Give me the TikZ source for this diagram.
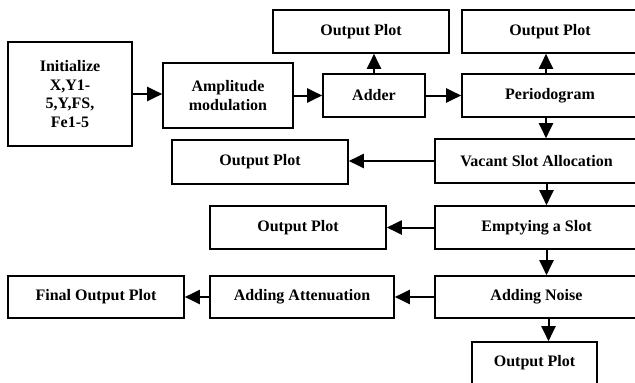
\documentclass[tikz,border=0pt]{standalone}
\usepackage{fontspec}
\setmainfont{Liberation Serif}
\usetikzlibrary{arrows.meta}

\begin{document}
\begin{tikzpicture}[x=1pt,y=-1pt]
		\tikzset{block/.style = {shape=rectangle, draw, line width=1.6pt, inner sep=0pt, align=center, font=\fontsize{16}{18.5}\selectfont\bfseries}}
		\tikzset{flow/.style = {-{Triangle[length=15pt,width=14pt]}, line width=2pt}}

		\useasboundingbox (0,0) rectangle (635,383);

		\node[block, minimum width=124pt, minimum height=104pt] (Init) at (70,94) {Initialize\\X,Y1-\\5,Y,FS,\\Fe1-5};
		\node[block, minimum width=130pt, minimum height=65pt] (Amp) at (228,95.5) {Amplitude\\modulation};
		\node[block, minimum width=102pt, minimum height=43pt] (Add) at (374,95.5) {Adder};
		\node[block, minimum width=176pt, minimum height=43pt] (Peri) at (550,95.5) {Periodogram};
		\node[block, minimum width=176pt, minimum height=43pt] (Out_1) at (361,31.5) {Output Plot};
		\node[block, minimum width=176pt, minimum height=43pt] (Out_2) at (550,31.5) {Output Plot};

		\node[block, minimum width=203pt, minimum height=44pt] (Vac) at (536.5,161) {Vacant Slot Allocation};
		\node[block, minimum width=176pt, minimum height=44pt] (Out_3) at (260,162) {Output Plot};
		\node[block, minimum width=203pt, minimum height=43pt] (Emp) at (536.5,227.5) {Emptying a Slot};
		\node[block, minimum width=176pt, minimum height=43pt] (Out_4) at (298,227.5) {Output Plot};
		\node[block, minimum width=203pt, minimum height=42pt] (Noise) at (536.5,297) {Adding Noise};
		\node[block, minimum width=184pt, minimum height=42pt] (Atten) at (302,297) {Adding Attenuation};
		\node[block, minimum width=176pt, minimum height=42pt] (Final) at (96,297) {Final Output Plot};
		\node[block, minimum width=125pt, minimum height=42pt] (Out_5) at (534.5,363) {Output Plot};

		\draw[flow] (Init.east) -- (Init.east -| Amp.west);
		\draw[flow] (Amp) -- (Add);
		\draw[flow] (Add) -- (Peri);
		\draw[flow] (Add) -- (Add |- Out_1.south);
		\draw[flow] ([xshift=-4pt]Peri.north) -- ([xshift=-4pt]Peri.north |- Out_2.south);
		\draw[flow] ([xshift=-4pt]Peri.south) -- ([xshift=-4pt]Peri.south |- Vac.north);

		\draw[flow] (Vac) -- (Vac -| Out_3.east);
		\draw[flow] ([xshift=10pt]Vac.south) -- ([xshift=10pt]Vac.south |- Emp.north);
		\draw[flow] (Emp) -- (Emp -| Out_4.east);
		\draw[flow] ([xshift=10pt]Emp.south) -- ([xshift=10pt]Emp.south |- Noise.north);
		\draw[flow] (Noise) -- (Atten);
		\draw[flow] (Atten) -- (Final);
		\draw[flow] ([xshift=12pt]Noise.south) -- ([xshift=12pt]Noise.south |- Out_5.north);
	\end{tikzpicture}
\end{document}
